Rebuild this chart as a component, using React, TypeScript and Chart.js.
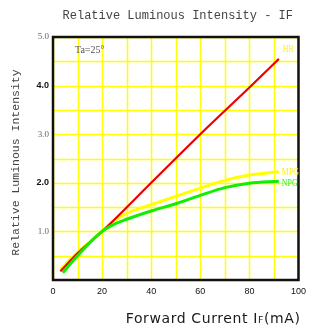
import React, { useEffect, useRef } from "react";
import { Chart, registerables } from "chart.js";

Chart.register(...registerables);

const chartTitle = "Relative Luminous Intensity - IF";
const xTitleMain = "Forward Current I";
const xTitleSub = "F";
const xTitleEnd = "(mA)";
const yTitle = "Relative Luminous Intensity";
const noteText = "Ta=25°";

const hrCurrent = [3, 10, 20, 40, 60, 80, 92];
const hrValue = [0.18, 0.55, 1.0, 2.0, 3.0, 3.96, 4.55];
const mpgCurrent = [3, 10, 20, 25, 30, 40, 50, 60, 70, 80, 92];
const mpgValue = [0.22, 0.57, 1.0, 1.22, 1.37, 1.55, 1.72, 1.89, 2.05, 2.16, 2.23];
const npgCurrent = [4, 10, 20, 25, 30, 40, 50, 60, 70, 80, 92];
const npgValue = [0.15, 0.5, 1.0, 1.15, 1.25, 1.42, 1.57, 1.74, 1.9, 1.99, 2.03];
const seriesNames = ["HR", "MPG", "NPG"];

const toPoints = (xs: number[], ys: number[]) => xs.map((x, i) => ({ x, y: ys[i] }));

const gridPlugin = {
  id: "yellowGrid",
  beforeDatasetsDraw(chart: any) {
    const { ctx, chartArea, scales } = chart;
    const { left, right, top, bottom } = chartArea;
    ctx.save();
    ctx.strokeStyle = "#ffff00";
    ctx.lineWidth = 1.5;
    ctx.beginPath();
    for (const t of scales.x.ticks) {
      const px = Math.round(scales.x.getPixelForValue(t.value)) + 0.5;
      ctx.moveTo(px, top);
      ctx.lineTo(px, bottom);
    }
    for (const t of scales.y.ticks) {
      const py = Math.round(scales.y.getPixelForValue(t.value)) + 0.5;
      ctx.moveTo(left, py);
      ctx.lineTo(right, py);
    }
    ctx.stroke();
    ctx.restore();
  },
};

const decorPlugin = {
  id: "decor",
  afterDatasetsDraw(chart: any) {
    const { ctx, chartArea } = chart;
    const { left, right, top, bottom } = chartArea;
    ctx.save();
    // frame
    ctx.strokeStyle = "#111";
    ctx.lineWidth = 2.5;
    ctx.strokeRect(left, top, right - left, bottom - top);
    // chart title
    ctx.fillStyle = "#444";
    ctx.font = '12px "Liberation Mono"';
    ctx.textAlign = "center";
    ctx.textBaseline = "middle";
    ctx.fillText(chartTitle, (left + right) / 2 + 2, 16);
    // y title
    ctx.save();
    ctx.translate(16, (top + bottom) / 2 + 4);
    ctx.rotate(-Math.PI / 2);
    ctx.font = '11.5px "Liberation Mono"';
    ctx.fillStyle = "#444";
    ctx.fillText(yTitle, 0, 0);
    ctx.restore();
    // x title
    ctx.save();
    ctx.fillStyle = "#1a1a1a";
    ctx.textAlign = "left";
    ctx.textBaseline = "alphabetic";
    (ctx as any).letterSpacing = "0.6px";
    const bigFont = '14px "DejaVu Sans"';
    const smallFont = '9.5px "DejaVu Sans"';
    ctx.font = bigFont;
    const w1 = ctx.measureText(xTitleMain).width;
    const w3 = ctx.measureText(xTitleEnd).width;
    ctx.font = smallFont;
    const w2 = ctx.measureText(xTitleSub).width;
    const xEnd = right + 2;
    let x0 = xEnd - (w1 + w2 + w3);
    const base = 323;
    ctx.font = bigFont;
    ctx.fillText(xTitleMain, x0, base);
    x0 += w1;
    ctx.font = smallFont;
    ctx.fillText(xTitleSub, x0, base);
    x0 += w2;
    ctx.font = bigFont;
    ctx.fillText(xTitleEnd, x0, base);
    ctx.restore();
    // note
    ctx.fillStyle = "#555";
    ctx.font = '10px "Liberation Serif"';
    ctx.textAlign = "left";
    ctx.textBaseline = "middle";
    ctx.fillText(noteText, left + 22, top + 13);
    // series labels
    const colors = ["#ffee22", "#ffee22", "#33ee33"];
    const dx = [4, 3, 3];
    const dy = [-10, 0, 2];
    for (let d = 0; d < 3; d++) {
      const meta = chart.getDatasetMeta(d);
      const last = meta.data[meta.data.length - 1];
      ctx.save();
      ctx.fillStyle = colors[d];
      ctx.font = '11px "Liberation Serif"';
      ctx.textAlign = "left";
      ctx.textBaseline = "middle";
      ctx.translate(last.x + dx[d], last.y + dy[d]);
      ctx.scale(0.72, 1);
      ctx.fillText(seriesNames[d], 0, 0);
      ctx.restore();
    }
    ctx.restore();
  },
};

export default function App() {
  const ref = useRef<HTMLCanvasElement>(null);
  useEffect(() => {
    document.body.style.margin = "0";
    const chart = new Chart(ref.current!, {
      type: "line",
      data: {
        datasets: [
          {
            label: seriesNames[0],
            data: toPoints(hrCurrent, hrValue),
            borderColor: "#ee0000",
            borderWidth: 2.2,
            pointRadius: 0,
            cubicInterpolationMode: "monotone",
            order: 2,
          },
          {
            label: seriesNames[1],
            data: toPoints(mpgCurrent, mpgValue),
            borderColor: "#ffff00",
            borderWidth: 3,
            pointRadius: 0,
            cubicInterpolationMode: "monotone",
            order: 3,
          },
          {
            label: seriesNames[2],
            data: toPoints(npgCurrent, npgValue),
            borderColor: "#11ee00",
            borderWidth: 3,
            pointRadius: 0,
            cubicInterpolationMode: "monotone",
            order: 1,
          },
        ],
      },
      options: {
        animation: false,
        responsive: false,
        layout: { padding: { top: 37, right: 10, left: 0, bottom: 0 } },
        plugins: { legend: { display: false }, tooltip: { enabled: false }, title: { display: false } },
        scales: {
          x: {
            type: "linear",
            min: 0,
            max: 100,
            afterFit: (s: any) => {
              s.height = 52;
            },
            border: { display: false },
            grid: { display: false, drawTicks: false },
            ticks: {
              stepSize: 10,
              autoSkip: false,
              maxRotation: 0,
              padding: 6,
              color: "#111",
              font: { family: '"Liberation Sans"', size: 9 },
              callback: (v: any) => (v % 20 === 0 ? String(v) : ""),
            },
          },
          y: {
            type: "linear",
            min: 0,
            max: 5,
            afterFit: (s: any) => {
              s.width = 53;
            },
            border: { display: false },
            grid: { display: false, drawTicks: false },
            ticks: {
              stepSize: 0.5,
              autoSkip: false,
              padding: 4,
              color: (c: any) => (c.tick && c.tick.value % 2 === 0 ? "#111" : "#666"),
              font: (c: any) =>
                c.tick && c.tick.value % 2 === 0
                  ? { family: '"Liberation Sans"', size: 9, weight: "bold" }
                  : { family: '"Liberation Serif"', size: 9 },
              callback: (v: any) => (Number.isInteger(v) && v > 0 ? Number(v).toFixed(1) : ""),
            },
          },
        },
      },
      plugins: [gridPlugin, decorPlugin],
    } as any);
    return () => chart.destroy();
  }, []);
  return (
    <div style={{ width: 312, height: 332 }}>
      <canvas ref={ref} width={312} height={332} />
    </div>
  );
}
